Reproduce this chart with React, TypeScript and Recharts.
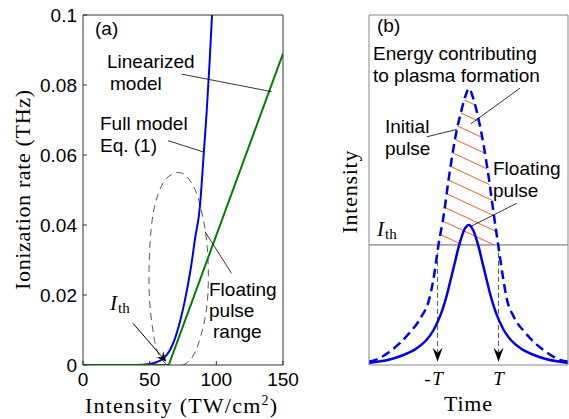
import React from 'react';
import { ComposedChart, Line, Area, XAxis, YAxis, ReferenceLine } from 'recharts';

// ---------- Panel (a) data ----------
const intensityTicks = [0, 50, 100, 150];
const rateTicks = [0, 0.02, 0.04, 0.06, 0.08, 0.1];

const fullModelIntensity = [0, 20, 40, 50, 55, 60, 65.3, 70.3, 76.5, 80.8, 84, 87.75, 90.3, 92.7, 94.8, 96.8];
const fullModelRate = [0, 0, 0.00003, 0.0003, 0.0008, 0.0018, 0.0043, 0.0091, 0.0186, 0.0275, 0.036, 0.0455, 0.059, 0.072, 0.0855, 0.1];

const linearIntensity = [0, 64.3, 150];
const linearRate = [0, 0, 0.089];

const rangeIntensity = [70.3, 76, 81, 85.3, 88.5, 91.5, 93.5, 94, 93, 90.5, 86.5, 81.5, 75.5, 69, 63, 58, 54.5, 52, 50, 49.5, 50.3, 52.5, 56.5, 62.5, 70.3];
const rangeRate = [0.055, 0.0545, 0.0522, 0.049, 0.0445, 0.039, 0.032, 0.024, 0.017, 0.0115, 0.006, 0.002, 0.0001, -0.0006, 0.0001, 0.0022, 0.0055, 0.011, 0.018, 0.026, 0.035, 0.043, 0.049, 0.0533, 0.055];

// ---------- Panel (b) data ----------
const timeTicks = [-1, 1];
const timeTickLabels = ['-T', 'T'];
const thresholdIntensity = 0.343;

const initialTime = [-3.25, -3.06, -2.5, -1.94, -1.53, -1.28, -1.14, -0.97, -0.79, -0.64, -0.47, -0.37, -0.24, -0.1, 0.03, 0.16, 0.3, 0.42, 0.52, 0.69, 0.84, 0.99, 1.16, 1.28, 1.5, 1.9, 2.47, 3.04, 3.28];
const initialIntensity = [0.01, 0.014, 0.043, 0.09, 0.138, 0.186, 0.243, 0.343, 0.433, 0.529, 0.624, 0.671, 0.719, 0.765, 0.79, 0.765, 0.719, 0.671, 0.624, 0.529, 0.433, 0.343, 0.243, 0.186, 0.138, 0.09, 0.043, 0.014, 0.01];

const floatingTime = [-3.25, -2.98, -2.48, -2.08, -1.68, -1.38, -1.13, -0.88, -0.71, -0.58, -0.44, -0.29, -0.13, 0.02, 0.17, 0.33, 0.48, 0.62, 0.75, 0.92, 1.17, 1.42, 1.72, 2.12, 2.52, 3.02, 3.28];
const floatingIntensity = [0.006, 0.009, 0.018, 0.03, 0.048, 0.07, 0.1, 0.148, 0.195, 0.24, 0.29, 0.343, 0.385, 0.4, 0.385, 0.343, 0.29, 0.24, 0.195, 0.148, 0.1, 0.07, 0.048, 0.03, 0.018, 0.009, 0.006];

// ---------- built tables ----------
const zip = (xs: number[], ys: number[]) => xs.map((x, i) => ({ x, y: ys[i] }));
const fullModelData = zip(fullModelIntensity, fullModelRate);
const linearData = zip(linearIntensity, linearRate);
const rangeData = zip(rangeIntensity, rangeRate);
const initialData = zip(initialTime, initialIntensity);
const floatingData = zip(floatingTime, floatingIntensity);
const hatchData = initialTime
  .map((x, i) => ({ x, range: [thresholdIntensity, initialIntensity[i]] }))
  .filter((d) => d.range[1] >= thresholdIntensity);

const SANS = '"Liberation Sans", Arial, sans-serif';
const SERIF = '"Liberation Serif", "Times New Roman", serif';

const arrowShape = (color: string, dash?: string, len = 11, half = 4.5) => (props: any) => {
  const { x1, y1, x2, y2 } = props;
  const dx = x2 - x1;
  const dy = y2 - y1;
  const d = Math.sqrt(dx * dx + dy * dy) || 1;
  const ux = dx / d;
  const uy = dy / d;
  const bx = x2 - ux * len;
  const by = y2 - uy * len;
  const nx = x2 - ux * len * 0.65;
  const ny = y2 - uy * len * 0.65;
  const px = -uy;
  const py = ux;
  const path = `M${x2},${y2} L${bx + px * half},${by + py * half} L${nx},${ny} L${bx - px * half},${by - py * half} Z`;
  return (
    <g>
      <line x1={x1} y1={y1} x2={nx} y2={ny} stroke={color} strokeWidth={1} strokeDasharray={dash} />
      <path d={path} fill="#000" stroke="none" />
    </g>
  );
};

const TimeTick = (props: any) => {
  const { x, y, payload } = props;
  const idx = timeTicks.indexOf(payload.value);
  const label = timeTickLabels[idx] ?? '';
  const neg = label.startsWith('-');
  const main = neg ? label.slice(1) : label;
  return (
    <g>
      {neg && (
        <text x={x - 7} y={y + 12} textAnchor="end" fontFamily={SERIF} fontSize={19} fill="#000">
          -
        </text>
      )}
      <text x={x} y={y + 12} textAnchor="middle" fontFamily={SERIF} fontStyle="italic" fontSize={19} fill="#000">
        {main}
      </text>
    </g>
  );
};

const Ith = ({ x, y }: { x: number; y: number }) => (
  <text x={x} y={y} fontFamily={SERIF} fill="#000">
    <tspan fontStyle="italic" fontSize={21}>I</tspan>
    <tspan fontSize={15} dy={3} dx={1}>th</tspan>
  </text>
);

const sansText = (x: number, y: number, s: string) => (
  <text x={x} y={y} fontFamily={SANS} fontSize={19} fill="#000">
    {s}
  </text>
);

export default function App() {
  const frameA = '#333';
  const frameB = '#888';
  const leader = { stroke: '#000', strokeWidth: 0.8 };
  return (
    <div style={{ position: 'absolute', left: 0, top: 0, width: 569, height: 419, background: '#fff', overflow: 'hidden' }}>
      {/* Panel (a) */}
      <div style={{ position: 'absolute', left: 0, top: 0 }}>
        <ComposedChart width={300} height={419} margin={{ top: 14, right: 16, bottom: 24, left: 23 }}>
          <XAxis
            xAxisId={0}
            dataKey="x"
            type="number"
            domain={[0, 150]}
            ticks={intensityTicks}
            allowDataOverflow
            height={30}
            tickSize={-4}
            tickMargin={12}
            stroke={frameA}
            tick={{ fill: '#000', fontFamily: SANS, fontSize: 19 }}
          />
          <XAxis
            xAxisId="top"
            orientation="top"
            type="number"
            domain={[0, 150]}
            ticks={intensityTicks}
            height={1}
            tickSize={-4}
            tick={false}
            stroke={frameA}
          />
          <YAxis
            yAxisId={0}
            type="number"
            domain={[0, 0.1]}
            ticks={rateTicks}
            allowDataOverflow
            width={60}
            tickSize={-4}
            tickMargin={10}
            stroke={frameA}
            tick={{ fill: '#000', fontFamily: SANS, fontSize: 19 }}
          />
          <YAxis
            yAxisId="right"
            orientation="right"
            type="number"
            domain={[0, 0.1]}
            ticks={rateTicks}
            width={1}
            tickSize={-4}
            tick={false}
            stroke={frameA}
          />
          <Line data={rangeData} dataKey="y" type="natural" stroke="#444" strokeWidth={0.9} strokeDasharray="7 5" dot={false} activeDot={false} isAnimationActive={false} />
          <Line data={fullModelData} dataKey="y" type="monotone" stroke="#0000f0" strokeWidth={2} dot={false} activeDot={false} isAnimationActive={false} />
          <Line data={linearData} dataKey="y" type="linear" stroke="#008000" strokeWidth={2} dot={false} activeDot={false} isAnimationActive={false} />
          <ReferenceLine segment={[{ x: 74, y: 0.0831 }, { x: 141.5, y: 0.0781 }]} {...leader} />
          <ReferenceLine segment={[{ x: 63.75, y: 0.0641 }, { x: 90, y: 0.0609 }]} {...leader} />
          <ReferenceLine segment={[{ x: 111.4, y: 0.0262 }, { x: 91.5, y: 0.0381 }]} {...leader} />
          <ReferenceLine segment={[{ x: 37.5, y: 0.0119 }, { x: 62.5, y: 0.0009 }]} shape={arrowShape('#000', undefined, 10, 4.5)} />
        </ComposedChart>
      </div>

      {/* Panel (b) */}
      <div style={{ position: 'absolute', left: 300, top: 0 }}>
        <ComposedChart width={269} height={419} margin={{ top: 14, right: 0, bottom: 24, left: 68 }}>
          <defs>
            <pattern id="hatchB" patternUnits="userSpaceOnUse" width={13.2} height={13.2} patternTransform="rotate(25)">
              <line x1={-1} y1={8} x2={14.2} y2={8} stroke="#e5673f" strokeWidth={1} />
            </pattern>
          </defs>
          <XAxis
            xAxisId={0}
            dataKey="x"
            type="number"
            domain={[-3.25, 3.28]}
            ticks={timeTicks}
            allowDataOverflow
            height={30}
            tickLine={false}
            stroke={frameB}
            tick={<TimeTick />}
          />
          <XAxis xAxisId="top" orientation="top" type="number" domain={[-3.25, 3.28]} height={1} tick={false} tickLine={false} stroke={frameB} />
          <YAxis yAxisId={0} type="number" domain={[0, 1]} allowDataOverflow width={1} tick={false} tickLine={false} stroke={frameB} />
          <YAxis yAxisId="right" orientation="right" type="number" domain={[0, 1]} width={1} tick={false} tickLine={false} stroke={frameB} />
          <Area data={hatchData} dataKey="range" type="monotone" stroke="none" fill="url(#hatchB)" fillOpacity={1} dot={false} activeDot={false} isAnimationActive={false} />
          <ReferenceLine y={thresholdIntensity} stroke="#666" strokeWidth={1} />
          <ReferenceLine segment={[{ x: -1, y: thresholdIntensity }, { x: -1, y: 0.009 }]} shape={arrowShape('#555', '5 3', 14, 5)} />
          <ReferenceLine segment={[{ x: 1, y: thresholdIntensity }, { x: 1, y: 0.009 }]} shape={arrowShape('#555', '5 3', 14, 5)} />
          <Line data={initialData} dataKey="y" type="monotone" stroke="#0000f0" strokeWidth={2.5} strokeDasharray="9 5" dot={false} activeDot={false} isAnimationActive={false} />
          <Line data={floatingData} dataKey="y" type="monotone" stroke="#0000f0" strokeWidth={2.5} dot={false} activeDot={false} isAnimationActive={false} />
          <ReferenceLine segment={[{ x: 1.707, y: 0.791 }, { x: 0.089, y: 0.689 }]} {...leader} />
          <ReferenceLine segment={[{ x: -1.356, y: 0.652 }, { x: -0.371, y: 0.673 }]} {...leader} />
          <ReferenceLine segment={[{ x: 1.599, y: 0.462 }, { x: 0.066, y: 0.395 }]} {...leader} />
        </ComposedChart>
      </div>

      {/* Text overlay */}
      <svg width={569} height={419} style={{ position: 'absolute', left: 0, top: 0, pointerEvents: 'none' }}>
        {/* panel (a) */}
        {sansText(95, 35, '(a)')}
        {sansText(107, 68, 'Linearized')}
        {sansText(110, 90, 'model')}
        {sansText(100, 130, 'Full model')}
        {sansText(100, 152, 'Eq. (1)')}
        {sansText(209, 296, 'Floating')}
        {sansText(209, 317, 'pulse')}
        {sansText(213, 338, 'range')}
        <Ith x={110} y={310} />
        <text x={181} y={413} textAnchor="middle" fontFamily={SERIF} fontSize={22} fill="#000" textLength={192} lengthAdjust="spacing">
          Intensity (TW/cm<tspan fontSize={14} dy={-8}>2</tspan><tspan dy={8}>)</tspan>
        </text>
        <text transform="translate(30,190) rotate(-90)" textAnchor="middle" fontFamily={SERIF} fontSize={22} fill="#000" textLength={200} lengthAdjust="spacing">
          Ionization rate (THz)
        </text>
        {/* panel (b) */}
        {sansText(377, 32, '(b)')}
        {sansText(373, 60, 'Energy contributing')}
        {sansText(373, 82, 'to plasma formation')}
        {sansText(385, 133, 'Initial')}
        {sansText(385, 155, 'pulse')}
        {sansText(493, 175, 'Floating')}
        {sansText(493, 197, 'pulse')}
        <Ith x={377} y={236} />
        <text x={468} y={411} textAnchor="middle" fontFamily={SERIF} fontSize={22} fill="#000" textLength={48} lengthAdjust="spacing">
          Time
        </text>
        <text transform="translate(357,192) rotate(-90)" textAnchor="middle" fontFamily={SERIF} fontSize={22} fill="#000" textLength={83} lengthAdjust="spacing">
          Intensity
        </text>
      </svg>
    </div>
  );
}
